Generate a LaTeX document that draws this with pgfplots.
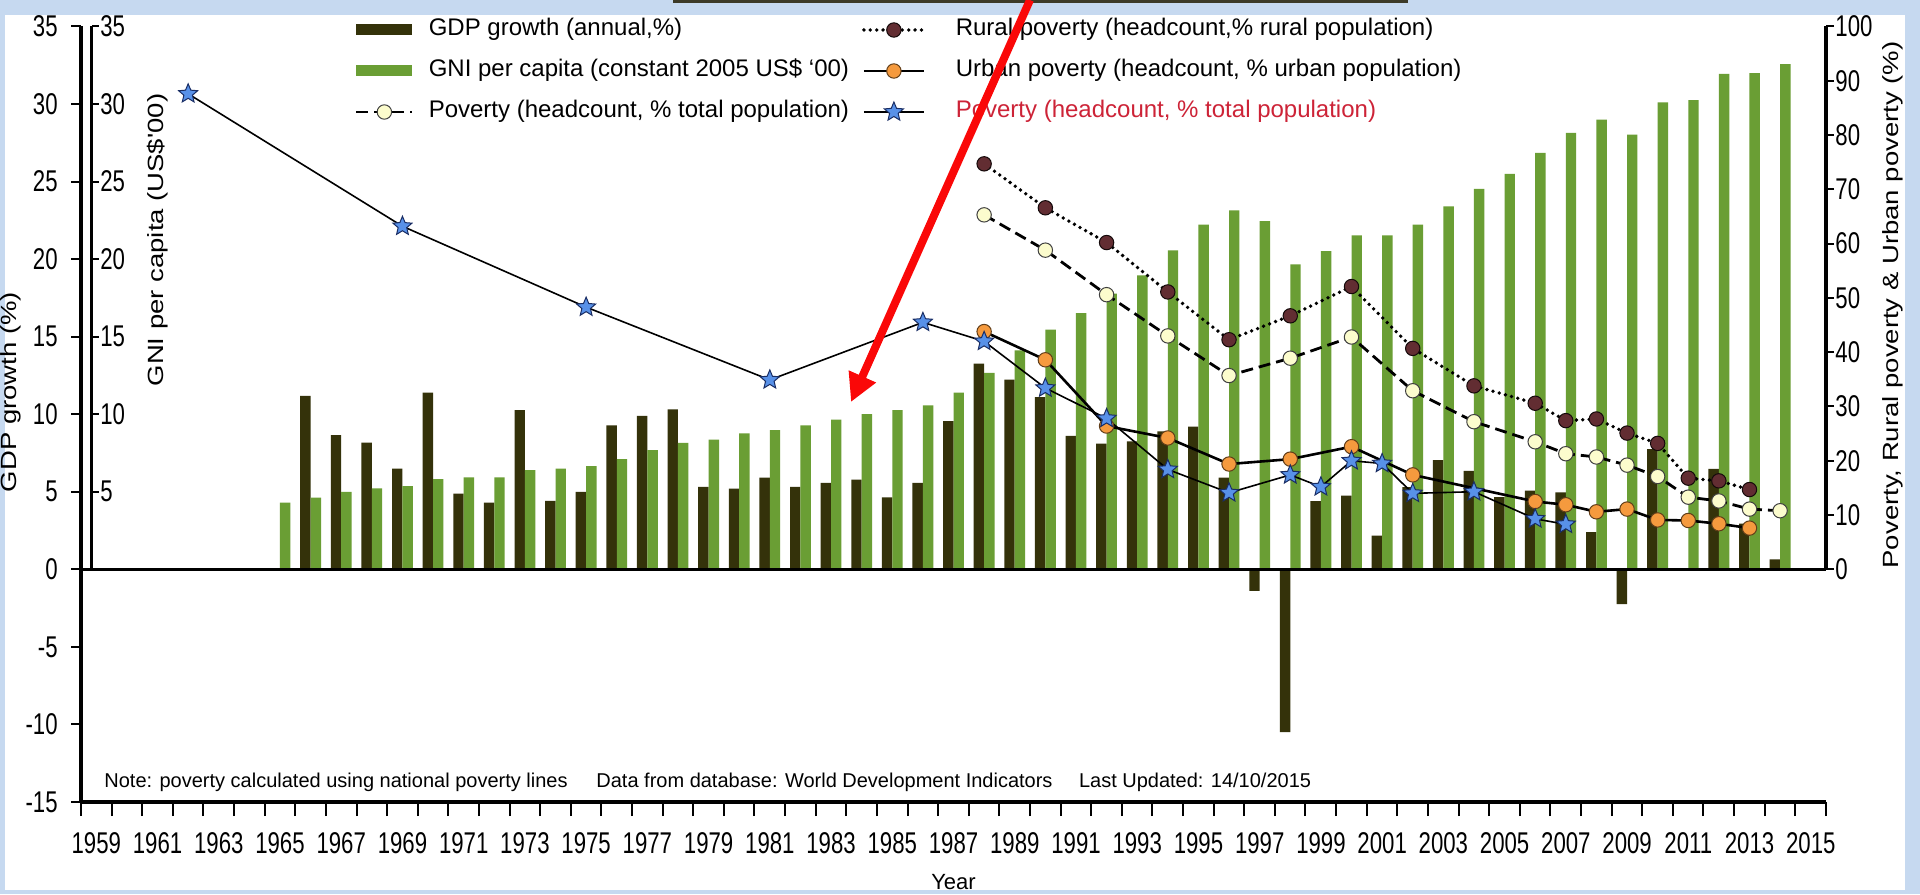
\documentclass[border=0pt]{standalone}
\usepackage{pgfplots}
\pgfplotsset{compat=1.18}
\usepackage{fontspec}
\setmainfont{Liberation Sans}
\newfontfamily\tickfont{Liberation Sans}[FakeStretch=0.74]
\newfontfamily\rotfont{Liberation Sans}[FakeStretch=1.25]
\usetikzlibrary{arrows.meta}

\definecolor{gdpc}{RGB}{52,50,10}
\definecolor{gnic}{RGB}{106,158,52}
\definecolor{ruralc}{RGB}{98,45,50}
\definecolor{urbanc}{RGB}{245,154,62}
\definecolor{totc}{RGB}{252,252,205}
\definecolor{starc}{RGB}{88,145,232}
\definecolor{stard}{RGB}{25,45,100}
\definecolor{bordc}{RGB}{198,217,240}
\definecolor{legred}{RGB}{205,35,55}
\definecolor{arrowred}{RGB}{250,8,8}
\definecolor{stripc}{RGB}{60,58,40}

\pgfdeclareplotmark{fstar}{%
  \pgfpathmoveto{\pgfpointpolar{90}{\pgfplotmarksize}}%
  \pgfpathlineto{\pgfpointpolar{126}{0.45\pgfplotmarksize}}%
  \pgfpathlineto{\pgfpointpolar{162}{\pgfplotmarksize}}%
  \pgfpathlineto{\pgfpointpolar{198}{0.45\pgfplotmarksize}}%
  \pgfpathlineto{\pgfpointpolar{234}{\pgfplotmarksize}}%
  \pgfpathlineto{\pgfpointpolar{270}{0.45\pgfplotmarksize}}%
  \pgfpathlineto{\pgfpointpolar{306}{\pgfplotmarksize}}%
  \pgfpathlineto{\pgfpointpolar{342}{0.45\pgfplotmarksize}}%
  \pgfpathlineto{\pgfpointpolar{18}{\pgfplotmarksize}}%
  \pgfpathlineto{\pgfpointpolar{54}{0.45\pgfplotmarksize}}%
  \pgfpathclose
  \pgfusepathqfillstroke
}

\pgfplotsset{
  barleg/.style={legend image code/.code={\fill[##1] (0pt,-2.75pt) rectangle (28pt,2.75pt);}},
  lineA/.style={legend image code/.code={\draw[mark repeat=2,mark phase=2,##1] plot coordinates {(0pt,0pt) (14pt,0pt) (28pt,0pt)};}},
  lineB/.style={legend image code/.code={\draw[mark repeat=2,mark phase=2,##1] plot coordinates {(0pt,0pt) (15pt,0pt) (30pt,0pt)};}},
  tickf/.style={tick label style={font=\tickfont\fontsize{15pt}{15pt}\selectfont}},
  mylegend/.style={legend style={draw=none, fill=none, inner sep=0pt, outer sep=0pt, row sep=8.5pt,
      font=\fontsize{12pt}{14pt}\selectfont,
      nodes={inner sep=0pt, text height=9pt, text depth=3pt}}, legend cell align=left},
}

\begin{document}
\begin{tikzpicture}[x=1pt,y=1pt]
\useasboundingbox (0,0) rectangle (960,447);
\fill[bordc] (0,0) rectangle (960,447);
\fill[white] (2.5,2) rectangle (952.5,439.5);
\fill[stripc] (336.5,445.6) rectangle (704,447);

% ---------- Axis A: GDP growth and GNI per capita bars ----------
\begin{axis}[
  at={(40.5pt,46pt)}, anchor=south west,
  scale only axis, width=872.5pt, height=387.75pt,
  xmin=1958.5, xmax=2015.5, ymin=-15, ymax=35,
  axis x line*=bottom, axis y line*=left,
  axis line style={line width=1.8pt,-},
  xtick={1959,1961,...,2015},
  minor xtick={1958.5,1959.5,...,2015.5},
  ytick={-15,-10,...,35},
  tick align=outside,
  major tick length=5pt, minor tick length=7pt,
  tick style={black, line width=1pt},
  major x tick style={draw=none},
  /pgf/number format/1000 sep={},
  /pgf/number format/assume math mode=true,
  tickf,
  xticklabel style={anchor=base, inner sep=0pt, yshift=-20.5pt},
  yticklabel style={anchor=east, inner sep=0pt, xshift=-6.5pt},
  mylegend,
  legend style={at={(0.15702,1.01096)}, anchor=north west,
    /tikz/every odd column/.append style={column sep=7.5pt}},
]
\addplot[ybar, bar width=0.34, bar shift=-0.17, fill=gdpc, draw=none, barleg] coordinates {
(1966,11.18) (1967,8.65) (1968,8.17) (1969,6.5) (1970,11.4) (1971,4.89) (1972,4.31)
(1973,10.26) (1974,4.42) (1975,5.0) (1976,9.29) (1977,9.89) (1978,10.32) (1979,5.32)
(1980,5.21) (1981,5.92) (1982,5.32) (1983,5.58) (1984,5.79) (1985,4.64) (1986,5.58)
(1987,9.55) (1988,13.26) (1989,12.23) (1990,11.1) (1991,8.6) (1992,8.1) (1993,8.25)
(1994,8.9) (1995,9.2) (1996,5.92) (1997,-1.38) (1998,-10.5) (1999,4.4) (2000,4.75)
(2001,2.17) (2002,5.3) (2003,7.05) (2004,6.35) (2005,4.66) (2006,5.07) (2007,4.96)
(2008,2.4) (2009,-2.25) (2010,7.75) (2011,0.08) (2012,6.47) (2013,2.95) (2014,0.64)
};
\addlegendentry{GDP growth (annual,\%)}
\addplot[ybar, bar width=0.34, bar shift=0.17, fill=gnic, draw=none, barleg] coordinates {
(1965,4.31) (1966,4.63) (1967,5.0) (1968,5.22) (1969,5.37) (1970,5.82) (1971,5.93)
(1972,5.93) (1973,6.4) (1974,6.5) (1975,6.65) (1976,7.1) (1977,7.68) (1978,8.15)
(1979,8.37) (1980,8.76) (1981,8.97) (1982,9.29) (1983,9.66) (1984,10.0) (1985,10.26)
(1986,10.58) (1987,11.4) (1988,12.66) (1989,14.12) (1990,15.45) (1991,16.52) (1992,17.77)
(1993,18.95) (1994,20.56) (1995,22.23) (1996,23.14) (1997,22.45) (1998,19.66) (1999,20.52)
(2000,21.53) (2001,21.53) (2002,22.23) (2003,23.4) (2004,24.53) (2005,25.5) (2006,26.85)
(2007,28.14) (2008,29.0) (2009,28.03) (2010,30.1) (2011,30.26) (2012,31.95) (2013,32.0)
(2014,32.58)
};
\addlegendentry{GNI per capita (constant 2005 US\$ ‘00)}
\addlegendimage{lineA, black, line width=1.4pt, dash pattern=on 6pt off 3pt, mark=*, mark size=3.6pt,
  mark options={solid, fill=totc, draw=black!75, line width=0.5pt}}
\addlegendentry{Poverty (headcount, \% total population)}
\end{axis}

% ---------- Axis C: GNI axis ----------
\begin{axis}[
  at={(40.5pt,162.325pt)}, anchor=south west,
  scale only axis, width=5.25pt, height=271.425pt,
  xmin=0, xmax=1, ymin=0, ymax=35,
  axis x line=none, axis y line*=right,
  axis line style={line width=1.8pt,-},
  ytick={5,10,...,35},
  tick align=outside, major tick length=3.5pt,
  tick style={black, line width=1pt},
  /pgf/number format/assume math mode=true,
  tickf,
  yticklabel style={anchor=west, inner sep=0pt, xshift=0.75pt},
]
\end{axis}

% ---------- Axis B: poverty lines ----------
\begin{axis}[
  at={(40.5pt,162.325pt)}, anchor=south west,
  scale only axis, width=872.5pt, height=271.425pt,
  xmin=1958.5, xmax=2015.5, ymin=0, ymax=100,
  axis x line*=bottom, axis y line*=right,
  axis line style={line width=1.8pt,-},
  xtick=\empty, minor xtick={1958.5,1959.5,...,2015.5},
  ytick={0,10,...,100},
  tick align=outside, major tick length=4pt, minor tick length=7pt,
  tick style={black, line width=1pt},
  /pgf/number format/assume math mode=true,
  tickf,
  yticklabel style={anchor=west, inner sep=0pt, xshift=0.5pt},
  mylegend,
  legend style={at={(0.44756,1.01566)}, anchor=north west,
    /tikz/every odd column/.append style={column sep=15pt}},
]
\addplot[forget plot, black, line width=1.4pt, dash pattern=on 6pt off 3pt, mark=*, mark size=3.6pt,
  mark options={solid, fill=totc, draw=black!75, line width=0.5pt}] coordinates {
(1988,65.3) (1990,58.8) (1992,50.6) (1994,43.0) (1996,35.7) (1998,38.9) (2000,42.8)
(2002,32.9) (2004,27.2) (2006,23.5) (2007,21.3) (2008,20.7) (2009,19.2) (2010,17.1)
(2011,13.3) (2012,12.6) (2013,11.1) (2014,10.8)
};
\addplot[lineB, black, line width=1.9pt, line cap=round, dash pattern=on 0pt off 3.2pt, mark=*, mark size=3.6pt,
  mark options={solid, fill=ruralc, draw=black!80!ruralc, line width=0.5pt}] coordinates {
(1988,74.7) (1990,66.6) (1992,60.2) (1994,51.1) (1996,42.3) (1998,46.7) (2000,52.1)
(2002,40.7) (2004,33.8) (2006,30.6) (2007,27.4) (2008,27.7) (2009,25.1) (2010,23.2)
(2011,16.8) (2012,16.3) (2013,14.7)
};
\addlegendentry{Rural poverty (headcount,\% rural population)}
\addplot[lineB, black, line width=1.3pt, mark=*, mark size=3.6pt,
  mark options={solid, fill=urbanc, draw=black!60!urbanc, line width=0.5pt}] coordinates {
(1988,43.8) (1990,38.6) (1992,26.4) (1994,24.2) (1996,19.4) (1998,20.3) (2000,22.6)
(2002,17.4) (2006,12.5) (2007,11.9) (2008,10.6) (2009,11.1) (2010,9.1) (2011,9.0)
(2012,8.4) (2013,7.6)
};
\addlegendentry{Urban poverty (headcount, \% urban population)}
\addplot[lineB, black, line width=0.8pt, mark=fstar, mark size=5pt,
  mark options={solid, fill=starc, draw=stard, line width=0.5pt}] coordinates {
(1962,87.6) (1969,63.2) (1975,48.3) (1981,34.9) (1986,45.5) (1988,42.0) (1990,33.4)
(1992,27.8) (1994,18.4) (1996,14.1) (1998,17.4) (1999,15.2) (2000,20.0) (2001,19.5)
(2002,14.0) (2004,14.3) (2006,9.3) (2007,8.3)
};
\addlegendentry{\textcolor{legred}{Poverty (headcount, \% total population)}}
\end{axis}

% ---------- labels and notes ----------
\node[rotate=90, anchor=base, inner sep=0pt, font=\rotfont\fontsize{11pt}{11pt}\selectfont] at (8.5,251) {GDP growth (\%)};
\node[rotate=90, anchor=base, inner sep=0pt, font=\rotfont\fontsize{11pt}{11pt}\selectfont] at (81.5,327) {GNI per capita (US\$'00)};
\node[rotate=90, anchor=base, inner sep=0pt, font=\rotfont\fontsize{11pt}{11pt}\selectfont] at (949,294.5) {Poverty, Rural poverty \& Urban poverty (\%)};
\node[anchor=base, inner sep=0pt, font=\fontsize{11pt}{11pt}\selectfont] at (476.75,2.5) {Year};
\node[anchor=base west, inner sep=0pt, font=\fontsize{10pt}{10pt}\selectfont] at (52,53.5) {Note: poverty calculated using national poverty lines};
\node[anchor=base west, inner sep=0pt, font=\fontsize{10pt}{10pt}\selectfont] at (298,53.5) {Data from database: World Development Indicators};
\node[anchor=base west, inner sep=0pt, font=\fontsize{10pt}{10pt}\selectfont] at (539.3,53.5) {Last Updated: 14/10/2015};

\draw[arrowred, line width=4pt, -{Triangle[length=14pt,width=14pt]}] (515,447) -- (425.5,246);
\end{tikzpicture}
\end{document}
